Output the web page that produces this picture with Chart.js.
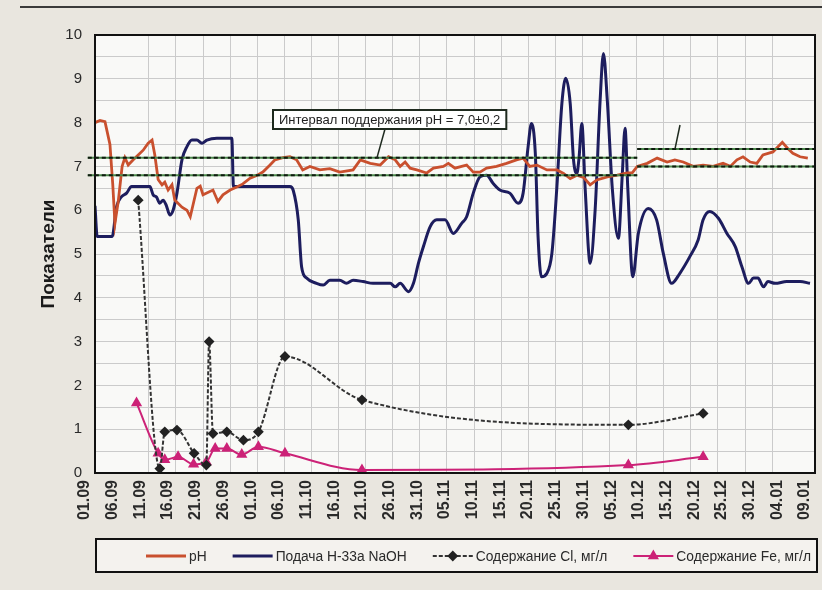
<!DOCTYPE html>
<html><head><meta charset="utf-8">
<script src="https://cdn.jsdelivr.net/npm/chart.js@4.4.1/dist/chart.umd.min.js"></script>
<style>html,body{margin:0;padding:0;background:#e9e6df;}</style>
</head><body>
<canvas id="c" width="822" height="590"></canvas>
<script>
// ---- Data (day index from 01.09 = 0) ----
const tickLabels = ['01.09','06.09','11.09','16.09','21.09','26.09','01.10','06.10','11.10','16.10','21.10','26.10','31.10','05.11','10.11','15.11','20.11','25.11','30.11','05.12','10.12','15.12','20.12','25.12','30.12','04.01','09.01'];
const seriesNames = ['pH','Подача Н-33а NaOH','Содержание Cl, мг/л','Содержание Fe, мг/л'];

const phDays = [0,0.9,1.8,2.7,3.2,3.6,4.2,4.9,5.4,6.0,6.9,7.8,8.7,9.6,10.3,10.8,11.4,12.1,12.6,13.2,13.9,14.4,15.7,16.6,17.2,18.4,19.0,19.5,21.3,22.2,23.1,24.4,25.6,26.7,28.0,29.3,30.3,31.6,32.5,33.9,35.2,36.4,37.5,38.8,40.6,42.4,44.2,46.6,47.9,49.7,51.5,53.0,54.2,55.1,56.0,56.9,58.1,59.9,61.1,62.9,63.8,65.0,66.2,67.1,68.3,69.5,70.7,72.5,74.3,76.1,77.3,78.5,79.8,81.6,83.4,84.6,85.8,87.0,88.2,89.4,90.6,92.5,94.3,96.1,97.0,97.9,99.7,101.5,103.3,104.7,106.2,108.0,109.8,111.6,113.4,114.7,115.9,117.0,118.3,119.5,120.6,122.4,124.1,125.0,126.0,127.3,128.7];
const phValues = [8.0,8.05,8.02,7.5,6.6,5.7,6.2,7.0,7.2,7.03,7.15,7.26,7.37,7.53,7.6,7.26,6.7,6.58,6.64,6.46,6.58,6.23,6.07,6.0,5.85,6.5,6.55,6.35,6.46,6.2,6.35,6.46,6.53,6.6,6.73,6.8,6.87,7.03,7.15,7.2,7.22,7.15,6.92,7.0,6.92,6.95,6.87,6.92,7.15,7.07,7.03,7.22,7.15,7.0,7.1,6.96,6.92,6.85,6.96,7.0,7.07,6.96,7.0,7.03,6.87,6.87,6.96,7.0,7.07,7.15,7.19,7.0,7.03,6.92,6.92,6.84,6.72,6.8,6.75,6.58,6.69,6.76,6.8,6.85,6.85,7.0,7.07,7.19,7.1,7.15,7.1,7.0,7.03,7.0,7.07,7.0,7.15,7.22,7.1,7.07,7.26,7.33,7.55,7.42,7.3,7.22,7.19];

const naohDays = [0,0.4,3.1,3.9,4.8,5.7,6.6,8.7,9.9,10.5,11.1,11.7,12.3,12.9,13.5,14.1,14.8,15.7,16.6,17.5,18.4,19.3,20.2,22.0,24.7,25.0,35.2,35.8,36.7,37.3,38.2,40.0,41.2,42.4,44.2,45.4,46.6,48.4,50.2,53.3,54.2,55.1,56.6,57.5,58.4,59.3,60.5,61.7,63.2,64.7,66.2,67.1,68.3,69.5,70.7,71.9,73.1,74.9,76.4,77.3,78.2,78.8,79.5,80.0,80.6,81.6,82.5,83.4,84.3,85.0,85.8,86.4,87.0,87.4,87.9,88.5,89.4,90.3,91.2,91.8,92.5,93.4,94.5,95.2,95.7,96.2,97.1,98.1,99.9,101.4,102.6,104.1,105.6,107.4,108.9,109.8,111.0,112.6,114.1,115.6,116.8,118.0,118.9,119.7,120.7,121.5,122.8,124.9,127.3,129.1];
const naohValues = [6.1,5.4,5.4,6.08,6.31,6.39,6.54,6.54,6.54,6.35,6.3,6.16,6.23,6.1,5.89,6.0,6.39,7.15,7.45,7.6,7.6,7.53,7.6,7.64,7.64,6.54,6.54,6.45,5.78,4.71,4.45,4.33,4.29,4.4,4.4,4.33,4.4,4.37,4.33,4.33,4.25,4.33,4.14,4.33,4.79,5.17,5.62,5.78,5.78,5.47,5.7,5.85,6.39,6.76,6.8,6.61,6.46,6.39,6.16,6.39,7.45,7.98,7.3,5.39,4.48,4.56,5.02,6.54,8.44,9.01,8.44,7.15,6.84,7.2,7.98,6.5,4.79,6.0,8.5,9.58,8.5,6.5,5.36,6.8,7.87,6.5,4.48,5.47,6.04,5.78,5.02,4.33,4.56,4.94,5.32,5.78,5.97,5.81,5.47,5.17,4.71,4.33,4.45,4.45,4.25,4.37,4.33,4.37,4.37,4.33];

const clDays = [7.8,11.7,12.6,14.8,17.9,20.1,20.6,21.3,23.8,26.8,29.5,34.3,48.2,96.3,109.8];
const clValues = [6.23,0.1,0.94,0.98,0.45,0.18,3.0,0.9,0.94,0.75,0.94,2.66,1.67,1.1,1.36];

const feDays = [7.5,11.4,12.6,15.0,17.8,20.1,21.7,23.8,26.5,29.5,34.3,48.2,96.3,109.8];
const feValues = [1.6,0.45,0.3,0.37,0.2,0.25,0.56,0.56,0.42,0.6,0.45,0.07,0.18,0.37];

// pH maintenance interval bands
const intervalStart = [-1.3, 97.9];
const intervalEnd = [97.9, 130];
const intervalLow = [6.8, 7.0];
const intervalHigh = [7.2, 7.4];
const intervalNote = 'Интервал поддержания pH = 7,0±0,2';
const yTitle = 'Показатели';

const pts = (xs, ys) => xs.map((d, i) => ({x: d, y: ys[i]}));

const FONT = "'Liberation Sans', Arial, sans-serif";

const decor = {
  id: 'decor',
  beforeDraw(chart) {
    const {ctx, chartArea: a} = chart;
    ctx.save();
    ctx.fillStyle = '#e9e6df';
    ctx.fillRect(0, 0, chart.width, chart.height);
    ctx.fillStyle = '#f9f9f7';
    ctx.fillRect(a.left, a.top, a.right - a.left, a.bottom - a.top);
    ctx.strokeStyle = '#3a3a3a'; ctx.lineWidth = 2;
    ctx.beginPath(); ctx.moveTo(20, 7); ctx.lineTo(822, 7); ctx.stroke();
    ctx.restore();
  },
  afterDatasetsDraw(chart) {
    const {ctx, chartArea: a, scales: {x, y}} = chart;
    ctx.save();
    for (let i = 0; i < intervalStart.length; i++) {
      const x0 = x.getPixelForValue(intervalStart[i]);
      const x1 = x.getPixelForValue(intervalEnd[i]);
      for (const v of [intervalLow[i], intervalHigh[i]]) {
        const py = y.getPixelForValue(v);
        ctx.lineWidth = 2;
        ctx.setLineDash([]);
        ctx.strokeStyle = '#4d8a4d';
        ctx.beginPath(); ctx.moveTo(x0, py); ctx.lineTo(x1, py); ctx.stroke();
        ctx.setLineDash([4, 3]);
        ctx.strokeStyle = '#0f1a0f';
        ctx.beginPath(); ctx.moveTo(x0, py); ctx.lineTo(x1, py); ctx.stroke();
      }
    }
    ctx.setLineDash([]);
    // note box
    ctx.font = '13px ' + FONT;
    const tw = ctx.measureText(intervalNote).width;
    const bx = 273, by = 110, bw = tw + 12, bh = 19;
    ctx.strokeStyle = '#1e2a1e'; ctx.lineWidth = 1.5;
    ctx.beginPath(); ctx.moveTo(385, by + bh); ctx.lineTo(377, y.getPixelForValue(intervalHigh[0])); ctx.stroke();
    ctx.beginPath(); ctx.moveTo(675, y.getPixelForValue(intervalHigh[1])); ctx.lineTo(680, 125); ctx.stroke();
    ctx.fillStyle = '#ffffff';
    ctx.fillRect(bx, by, bw, bh);
    ctx.lineWidth = 2;
    ctx.strokeRect(bx, by, bw, bh);
    ctx.fillStyle = '#222';
    ctx.textBaseline = 'middle';
    ctx.fillText(intervalNote, bx + 6, by + bh / 2 + 1);
    // plot border
    ctx.strokeStyle = '#111'; ctx.lineWidth = 2;
    ctx.strokeRect(a.left, a.top, a.right - a.left, a.bottom - a.top);
    ctx.restore();
  },
  afterDraw(chart) {
    const {ctx} = chart;
    ctx.save();
    ctx.fillStyle = '#f4f2ee';
    ctx.fillRect(96, 539, 721, 33);
    ctx.strokeStyle = '#111'; ctx.lineWidth = 2;
    ctx.strokeRect(96, 539, 721, 33);
    const cy = 556;
    let cx = 146;
    ctx.font = '13.8px ' + FONT;
    ctx.textBaseline = 'middle';
    chart.data.datasets.forEach((ds, i) => {
      if (i >= seriesNames.length) return;
      ctx.strokeStyle = ds.borderColor; ctx.lineWidth = ds.borderWidth;
      ctx.setLineDash(ds.borderDash || []);
      ctx.beginPath(); ctx.moveTo(cx, cy); ctx.lineTo(cx + 40, cy); ctx.stroke();
      ctx.setLineDash([]);
      if (ds.pointRadius > 0) {
        ctx.fillStyle = ds.pointBackgroundColor; ctx.strokeStyle = ds.pointBorderColor;
        Chart.helpers.drawPoint(ctx, {pointStyle: ds.pointStyle, radius: ds.pointRadius, borderWidth: 1, rotation: 0}, cx + 20, cy);
      }
      ctx.fillStyle = '#2a2a2a';
      ctx.fillText(ds.label, cx + 43, cy + 1);
      cx += 43 + ctx.measureText(ds.label).width + 26;
    });
    ctx.restore();
  }
};

new Chart(document.getElementById('c'), {
  type: 'line',
  data: {
    datasets: [
      {label: seriesNames[0], data: pts(phDays, phValues), borderColor: '#c9502e', borderWidth: 2.8, pointRadius: 0, tension: 0},
      {label: seriesNames[1], data: pts(naohDays, naohValues), borderColor: '#1d1d5e', borderWidth: 3, pointRadius: 0, cubicInterpolationMode: 'monotone'},
      {label: seriesNames[2], data: pts(clDays, clValues), borderColor: '#333333', borderWidth: 2, borderDash: [4, 2], pointStyle: 'rectRot', pointRadius: 4, pointBackgroundColor: '#222', pointBorderColor: '#222', cubicInterpolationMode: 'monotone'},
      {label: seriesNames[3], data: pts(feDays, feValues), borderColor: '#cc2277', borderWidth: 2, pointStyle: 'triangle', pointRadius: 4.5, pointBackgroundColor: '#cc2277', pointBorderColor: '#cc2277', cubicInterpolationMode: 'monotone'}
    ]
  },
  options: {
    responsive: false, animation: false, devicePixelRatio: 1,
    layout: {padding: {left: 34, right: 7, top: 35, bottom: 57}},
    plugins: {legend: {display: false}, tooltip: {enabled: false}},
    scales: {
      x: {
        type: 'linear', min: 0, max: 130,
        grid: {display: false, drawTicks: false},
        border: {display: false},
        ticks: {
          stepSize: 5, autoSkip: false, maxRotation: 90, minRotation: 90, padding: 7, labelOffset: -10,
          color: '#2a2a2a', font: {family: FONT, size: 16, weight: 'bold'},
          callback: (v) => (v % 5 === 0 ? tickLabels[v / 5] : '')
        },
        afterFit: (s) => { s.height = 60; s.paddingLeft = 0; s.paddingRight = 0; }
      },
      xg: {
        type: 'linear', position: 'bottom', min: -0.985, max: 25.58,
        grid: {color: '#cbcbcb', lineWidth: 1, drawTicks: false},
        border: {display: false},
        ticks: {display: false, stepSize: 1},
        afterBuildTicks: (s) => { s.ticks = s.ticks.filter(t => Math.abs(t.value - Math.round(t.value)) < 1e-6); },
        afterFit: (s) => { s.height = 0; s.paddingLeft = 0; s.paddingRight = 0; }
      },
      y: {
        min: 0, max: 10,
        grid: {color: '#cbcbcb', lineWidth: 1, drawTicks: false},
        border: {display: false},
        ticks: {stepSize: 0.5, autoSkip: false, padding: 13, color: '#2a2a2a', font: {family: FONT, size: 15},
          callback: (v) => (Number.isInteger(v) ? String(v) : '')},
        title: {display: true, text: yTitle, color: '#1a1a1a', font: {family: FONT, size: 19, weight: 'bold'}, padding: {top: 3, bottom: 3}},
        afterFit: (s) => { s.width = 61; s.paddingTop = 0; s.paddingBottom = 0; }
      }
    }
  },
  plugins: [decor]
});
</script>
</body></html>
